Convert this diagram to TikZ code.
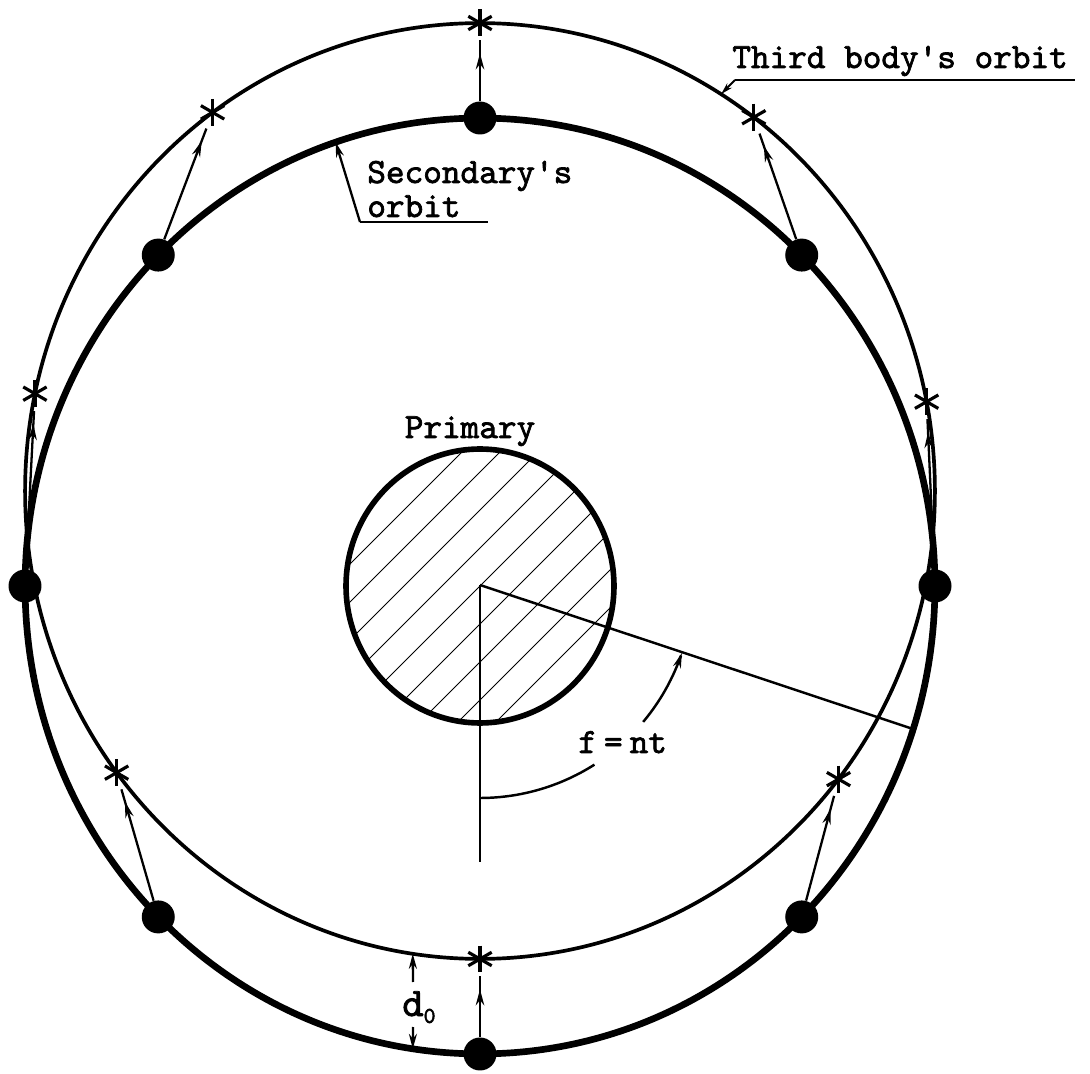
\documentclass[tikz,border=0pt]{standalone}
\usepackage{fontspec}
\newfontfamily\lblfont[FakeBold=2]{lmmono10-regular.otf}
\usetikzlibrary{arrows.meta,decorations.markings,calc}
\begin{document}
\begin{tikzpicture}[x=0.02cm,y=-0.02cm,
 thickorb/.style={line width=3.8pt},
 thinorb/.style={line width=2.1pt},
 body/.style={circle,fill=black,inner sep=0pt,minimum size=0.66cm},
 third/.style={circle,inner sep=0pt,minimum size=0.68cm},
 starline/.style={line width=1.8pt},
 vec/.style={line width=1.3pt,postaction={decorate},decoration={markings,mark=at position -0.26cm with {\arrow{Stealth[length=0.32cm,width=0.17cm]}}}},
 tip/.style={line width=1.3pt,-{Stealth[length=0.3cm,width=0.16cm]}},
 lbl/.style={font=\lblfont\fontsize{20.2}{23}\selectfont,inner sep=0pt},
 hatch/.style={line width=0.6pt},
 thinline/.style={line width=1.4pt},
 uline/.style={line width=1.2pt}]

\useasboundingbox (0,0) rectangle (1090,1074);

% primary with hatching
\begin{scope}
\clip (480,586) ellipse [x radius=2.68cm, y radius=2.74cm];
\foreach \k in {-9,...,9} \draw[hatch] ({480+38*\k-240},826) -- ({480+38*\k+240},346);
\end{scope}
\draw[line width=3.2pt] (480,586) ellipse [x radius=2.68cm, y radius=2.74cm];

% angle lines
\coordinate (O) at (480,585);
\coordinate (Vend) at (480,862);
\coordinate (R) at ({480+455*cos(-17.8)},{586-468*sin(-17.8)});
\draw[thinline] (O) -- (Vend);
\draw[thinline] (O) -- (R);
\draw[thinline] plot[domain=-90:-57.5,samples=30,smooth] ({480+213*cos(\x)},{585-213*sin(\x)});
\draw[thinline,-{Stealth[length=0.3cm,width=0.16cm]}] plot[domain=-40:-18.6,samples=20,smooth] ({480+213*cos(\x)},{585-213*sin(\x)});

% orbits
\draw[thinorb] (480,491) ellipse [x radius=9.1cm, y radius=9.36cm];
\draw[thickorb] (480,586) ellipse [x radius=9.1cm, y radius=9.36cm];

% secondary positions and third body positions
\foreach \i/\a in {1/90,2/45,3/0,4/-45,5/-90,6/-135,7/180,8/135}
  \node[body] (s\i) at ({480+455*cos(\a)},{586-468*sin(\a)}) {};
\foreach \i/\a in {1/90,2/53,3/11,4/-38,5/-90,6/-143,7/168,8/126}
  \node[third] (t\i) at ({480+455*cos(\a)},{491-468*sin(\a)}) {};
\foreach \i in {1,...,8} {
  \draw[vec] (s\i) -- (t\i);
  \foreach \b/\c in {90/270,30/210,-30/150}
    \draw[starline] ($(t\i.center)+(\b:0.27cm)$) -- ($(t\i.center)+(\c:0.27cm)$);
}

% Third body's orbit label
\node[lbl,anchor=base west] (tbl) at (732,68) {Third body's orbit};
\coordinate (tu1) at (735,80);
\coordinate (tu2) at (1075,80);
\draw[uline] (tu1) -- (tu2);
\coordinate (to) at ({480+455*cos(58)},{491-468*sin(58)});
\draw[line width=1.1pt,-{Stealth[length=0.24cm,width=0.13cm]}] (tu1) -- (to);

% Secondary's orbit label
\node[lbl,anchor=base west] (sl1) at (367,183) {Secondary's};
\node[lbl,anchor=base west] (sl2) at (367,217) {orbit};
\coordinate (su1) at (360,222);
\coordinate (su2) at (488,222);
\draw[uline] (su1) -- (su2);
\coordinate (so) at ({480+455*cos(108.5)},{586-468*sin(108.5)});
\draw[tip] (su1) -- (so);

% Primary label
\node[lbl,anchor=base] (pl) at (470,438) {Primary};

% angle label
\node[lbl,anchor=base west] (fl) at (578,753) {f\kern4pt=\kern4pt nt};

% d0
\coordinate (d1) at (413,982);
\coordinate (d1o) at ({480+455*cos(-98.5)},{491-468*sin(-98.5)});
\coordinate (d2) at (413,1027);
\coordinate (d2o) at ({480+455*cos(-98.5)},{586-468*sin(-98.5)});
\draw[tip] (d1) -- (d1o);
\draw[tip] (d2) -- (d2o);
\node[lbl,anchor=base west] (dl) at (402,1016) {\fontsize{23}{23}\selectfont d\raisebox{-0.4ex}{\fontsize{13}{13}\selectfont 0}};
\end{tikzpicture}
\end{document}
